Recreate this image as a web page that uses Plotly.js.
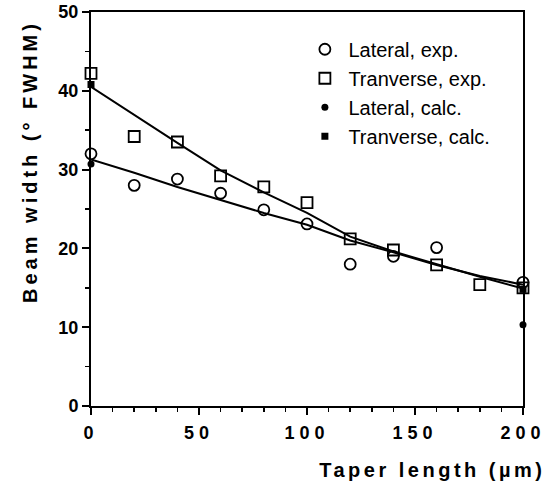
<!DOCTYPE html>
<html><head><meta charset="utf-8">
<script src="https://cdn.plot.ly/plotly-3.0.1.min.js"></script>
<style>
html,body{margin:0;padding:0;background:#fff}
#chart{width:549px;height:490px}
#chart g.xtick text{letter-spacing:5px}
#chart .annotation[data-index="0"] text{letter-spacing:3.5px}
#chart .annotation[data-index="1"] text{letter-spacing:4px}
</style>
</head><body><div id="chart"></div>
<script>
// Experimental data
const xExp = [0, 20, 40, 60, 80, 100, 120, 140, 160, 200];
const lateralExp = [32.0, 28.0, 28.8, 27.0, 24.9, 23.1, 18.0, 19.0, 20.1, 15.7];
const xExpT = [0, 20, 40, 60, 80, 100, 120, 140, 160, 180, 200];
const transverseExp = [42.2, 34.2, 33.5, 29.2, 27.8, 25.8, 21.2, 19.8, 17.9, 15.4, 15.0];
// Calculated points
const xCalc = [0, 200];
const lateralCalc = [30.7, 10.3];
const transverseCalc = [40.8, 14.8];
// Fitted curves
const xFit = [0, 20, 40, 60, 80, 100, 120, 140, 160, 180, 200];
const lateralFit = [31.3, 29.6, 27.8, 26.1, 24.5, 23.0, 21.0, 19.5, 17.9, 16.5, 15.4];
const transverseFit = [40.5, 36.9, 33.4, 29.9, 27.1, 24.5, 21.5, 19.6, 18.0, 16.4, 14.9];
const legendNames = ['Lateral, exp.', 'Tranverse, exp.', 'Lateral, calc.', 'Tranverse, calc.'];
const xTicks = [0, 50, 100, 150, 200];
const xTitle = 'Taper length (µm)';
const yTitle = 'Beam width (° FWHM)';

const traces = [
  {x: xFit, y: lateralFit, mode: 'lines', line: {color: '#000', width: 2}, showlegend: false, hoverinfo: 'skip'},
  {x: xFit, y: transverseFit, mode: 'lines', line: {color: '#000', width: 2}, showlegend: false, hoverinfo: 'skip'},
  {x: xExp, y: lateralExp, mode: 'markers', name: legendNames[0], legendgroup: 'a',
   marker: {symbol: 'circle-open', size: 11, color: '#000', line: {width: 1.8, color: '#000'}}},
  {x: xExpT, y: transverseExp, mode: 'markers', name: legendNames[1], legendgroup: 'b',
   marker: {symbol: 'square-open', size: 11, color: '#000', line: {width: 1.8, color: '#000'}}},
  {x: xCalc, y: lateralCalc, mode: 'markers', name: legendNames[2], legendgroup: 'c',
   marker: {symbol: 'circle', size: 7, color: '#000'}},
  {x: xCalc, y: transverseCalc, mode: 'markers', name: legendNames[3], legendgroup: 'd',
   marker: {symbol: 'square', size: 7, color: '#000'}}
];

const FONT = 'Liberation Sans, Arial, Helvetica, sans-serif';
const tickFont = {family: FONT, size: 18, color: '#000', weight: 'bold'};
const titleFont = {family: FONT, size: 20, color: '#000', weight: 'bold'};
const layout = {
  width: 549, height: 490,
  margin: {l: 91, r: 26, t: 12, b: 84},
  paper_bgcolor: '#fff', plot_bgcolor: '#fff',
  showlegend: true,
  legend: {x: 0.487, y: 0.955, xanchor: 'left', yanchor: 'top', bgcolor: 'rgba(0,0,0,0)',
    traceorder: 'grouped', tracegroupgap: 0, itemwidth: 37,
    font: {family: FONT, size: 20, color: '#000'}},
  xaxis: {range: [0, 200], tickvals: xTicks, ticks: 'outside', ticklen: 7, tickwidth: 2,
    tickcolor: '#000', showline: true, linecolor: '#000', linewidth: 2, mirror: true,
    showgrid: false, zeroline: false, tickfont: tickFont, ticklabelstandoff: 2,
    minor: {dtick: 10, tick0: 0, ticks: 'outside', ticklen: 4, tickwidth: 1.5, tickcolor: '#000', showgrid: false}},
  yaxis: {range: [0, 50], dtick: 10, ticks: 'outside', ticklen: 7, tickwidth: 2,
    tickcolor: '#000', showline: true, linecolor: '#000', linewidth: 2, mirror: true,
    showgrid: false, zeroline: false, tickfont: tickFont,
    minor: {dtick: 5, tick0: 0, ticks: 'outside', ticklen: 4, tickwidth: 1.5, tickcolor: '#000', showgrid: false}},
  annotations: [
    {text: xTitle, xref: 'paper', yref: 'paper', x: 0.79, y: -0.162,
     xanchor: 'center', yanchor: 'middle', showarrow: false, font: titleFont},
    {text: yTitle, xref: 'paper', yref: 'paper', x: -0.143, y: 0.62, textangle: -90,
     xanchor: 'center', yanchor: 'middle', showarrow: false, font: titleFont}
  ]
};
traces.forEach(t => { t.cliponaxis = false; });
Plotly.newPlot('chart', traces, layout, {displayModeBar: false, staticPlot: true});
</script></body></html>
